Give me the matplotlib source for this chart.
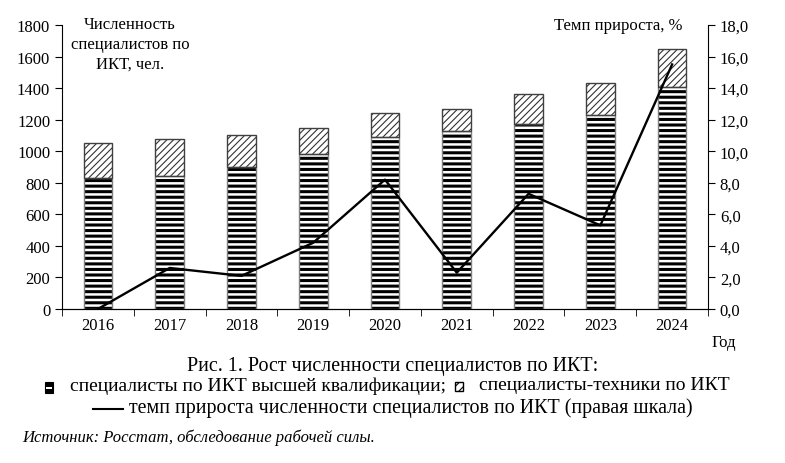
import matplotlib.pyplot as plt
import matplotlib as mpl
from matplotlib.patches import Rectangle
from matplotlib.lines import Line2D
import numpy as np

plt.rcParams['font.family'] = ['Liberation Serif', 'DejaVu Serif']

years = ['2016', '2017', '2018', '2019', '2020', '2021', '2022', '2023', '2024']
# высшей квалификации
high = [830, 845, 900, 985, 1090, 1130, 1175, 1230, 1410]
# итого (верх столбца)
total = [1050, 1080, 1100, 1145, 1240, 1265, 1360, 1430, 1650]
tech = [t - h for t, h in zip(total, high)]
growth = [0.0, 2.6, 2.1, 4.2, 8.2, 2.3, 7.3, 5.3, 15.5]

fig = plt.figure(figsize=(7.85, 4.64), dpi=100)
ax = fig.add_axes([62 / 785, 1 - 310 / 464, 646 / 785, 284 / 464])
x = np.arange(len(years))

mpl.rcParams['hatch.linewidth'] = 2.2
ax.bar(x, high, width=0.4, color='white', edgecolor='black', hatch='---', linewidth=0)
mpl.rcParams['hatch.linewidth'] = 0.8
ax.bar(x, tech, width=0.4, bottom=high, color='white', edgecolor='#333333', hatch='/////', linewidth=0)
ax.bar(x, high, width=0.4, color='none', edgecolor='#808080', linewidth=1.0)
ax.bar(x, tech, width=0.4, bottom=high, color='none', edgecolor='#404040', linewidth=1.0)

ax.set_ylim(0, 1800)
ax.set_yticks(range(0, 1801, 200))
ax.set_xlim(-0.5, 8.5)
ax.set_xticks(x)
ax.set_xticklabels(years)
ax.set_xticks(np.arange(-0.5, 8.6, 1), minor=True)
ax.tick_params(axis='x', which='major', length=0, labelsize=12, pad=6)
ax.tick_params(axis='x', which='minor', length=5, direction='out')
ax.tick_params(axis='y', labelsize=12, length=5, direction='out')
ax.spines['top'].set_visible(False)
ax.spines['right'].set_visible(False)

ax2 = ax.twinx()
ax2.plot(x, growth, color='black', linewidth=1.7)
ax2.set_ylim(0, 18)
ax2.set_yticks(np.arange(0, 18.1, 2))
ax2.set_yticklabels([f'{v:.1f}'.replace('.', ',') for v in np.arange(0, 18.1, 2)])
ax2.tick_params(axis='y', labelsize=12, length=5, direction='out')
ax2.spines['top'].set_visible(False)
ax2.spines['left'].set_visible(False)
ax2.set_xlim(-0.5, 8.5)

fig.text(130 / 785, 1 - 45 / 464, 'Численность\nспециалистов по\nИКТ, чел.', ha='center', va='center',
         fontsize=12, linespacing=1.3)
fig.text(618 / 785, 1 - 26 / 464, 'Темп прироста, %', ha='center', va='center', fontsize=12)
fig.text(724 / 785, 1 - 343 / 464, 'Год', ha='center', va='center', fontsize=12)

fig.text(393 / 785, 1 - 367 / 464, 'Рис. 1. Рост численности специалистов по ИКТ:', ha='center', va='center',
         fontsize=14.4)

# легенда вручную
fig.add_artist(Rectangle((45 / 785, 1 - 394 / 464), 8 / 785, 11 / 464, transform=fig.transFigure,
                         facecolor='black', edgecolor='black', linewidth=0.8))
fig.add_artist(Rectangle((46 / 785, 1 - 389.5 / 464), 6 / 785, 2 / 464, transform=fig.transFigure,
                         facecolor='white', edgecolor='none'))
fig.text(70 / 785, 1 - 386 / 464, 'специалисты по ИКТ высшей квалификации;', ha='left', va='center',
         fontsize=14)
mpl.rcParams['hatch.linewidth'] = 0.8
fig.add_artist(Rectangle((455 / 785, 1 - 392 / 464), 8 / 785, 9 / 464, transform=fig.transFigure,
                         facecolor='white', edgecolor='black', hatch='////', linewidth=1))
fig.text(479 / 785, 1 - 386 / 464, 'специалисты-техники по ИКТ', ha='left', va='center', fontsize=14)
fig.add_artist(Line2D([93 / 785, 123 / 785], [1 - 410 / 464, 1 - 410 / 464], transform=fig.transFigure,
                      color='black', linewidth=1.5))
fig.text(129 / 785, 1 - 408 / 464, 'темп прироста численности специалистов по ИКТ (правая шкала)', ha='left',
         va='center', fontsize=14.4)

fig.text(22 / 785, 1 - 438 / 464, 'Источник: Росстат, обследование рабочей силы.', ha='left', va='center',
         fontsize=12, style='italic')

fig.savefig('out.png', dpi=100)
